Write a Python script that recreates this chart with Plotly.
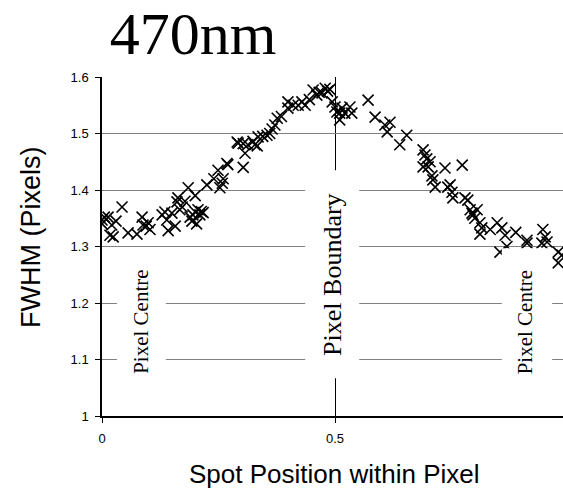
import plotly.graph_objects as go

# ---- data ----
spot_x = [0.0, 0.0, 0.005, 0.013, 0.017, 0.021, 0.024, 0.03, 0.043, 0.056, 0.075, 0.086, 0.088, 0.095,
          0.099, 0.103, 0.129, 0.135, 0.139, 0.142, 0.15, 0.157, 0.161, 0.163, 0.167, 0.172, 0.178, 0.185,
          0.189, 0.193, 0.195, 0.2, 0.2, 0.203, 0.206, 0.21, 0.213, 0.217, 0.225, 0.24, 0.249, 0.253, 0.258,
          0.26, 0.268, 0.27, 0.29, 0.292, 0.303, 0.303, 0.307, 0.313, 0.324, 0.328, 0.333, 0.335, 0.345,
          0.354, 0.36, 0.365, 0.371, 0.376, 0.385, 0.399, 0.399, 0.41, 0.421, 0.429, 0.436, 0.445, 0.453,
          0.461, 0.466, 0.472, 0.479, 0.484, 0.489, 0.494, 0.5, 0.504, 0.51, 0.51, 0.515, 0.521, 0.532,
          0.536, 0.571, 0.586, 0.607, 0.612, 0.618, 0.639, 0.654, 0.689, 0.689, 0.693, 0.697, 0.7, 0.704,
          0.708, 0.71, 0.715, 0.736, 0.742, 0.747, 0.751, 0.753, 0.773, 0.779, 0.785, 0.79, 0.794, 0.796,
          0.8, 0.805, 0.811, 0.811, 0.815, 0.833, 0.848, 0.854, 0.858, 0.865, 0.869, 0.888, 0.912, 0.912,
          0.944, 0.946, 0.951, 0.955, 0.979, 0.979, 0.987]
fwhm = [1.347, 1.34, 1.352, 1.352, 1.32, 1.338, 1.317, 1.345, 1.37, 1.324, 1.322, 1.352, 1.338, 1.336,
        1.342, 1.33, 1.356, 1.361, 1.347, 1.328, 1.359, 1.336, 1.379, 1.386, 1.365, 1.37, 1.38, 1.404,
        1.352, 1.345, 1.356, 1.39, 1.361, 1.34, 1.365, 1.356, 1.362, 1.36, 1.409, 1.42, 1.435, 1.404, 1.412,
        1.42, 1.447, 1.445, 1.485, 1.483, 1.44, 1.482, 1.465, 1.48, 1.486, 1.48, 1.478, 1.494, 1.495,
        1.497, 1.5, 1.508, 1.515, 1.527, 1.53, 1.545, 1.556, 1.55, 1.55, 1.556, 1.55, 1.56, 1.577,
        1.568, 1.573, 1.572, 1.58, 1.575, 1.578, 1.556, 1.547, 1.538, 1.524, 1.536, 1.545, 1.536, 1.547,
        1.536, 1.559, 1.529, 1.515, 1.503, 1.52, 1.48, 1.497, 1.471, 1.441, 1.462, 1.455, 1.441, 1.45,
        1.425, 1.418, 1.405, 1.439, 1.405, 1.409, 1.396, 1.386, 1.444, 1.386, 1.382, 1.365, 1.359, 1.356,
        1.35, 1.365, 1.342, 1.322, 1.333, 1.33, 1.342, 1.29, 1.333, 1.32, 1.3, 1.325, 1.311, 1.306,
        1.306, 1.33, 1.317, 1.308, 1.29, 1.271, 1.285]

y_ticks = [1.0, 1.1, 1.2, 1.3, 1.4, 1.5, 1.6]
y_tick_labels = ["1", "1.1", "1.2", "1.3", "1.4", "1.5", "1.6"]
x_ticks = [0, 0.5]
x_tick_labels = ["0", "0.5"]

labels = ["Pixel Centre", "Pixel Boundary", "Pixel Centre"]
label_x = [0.085, 0.496, 0.908]
label_y = [1.166, 1.25, 1.166]
label_size = [21, 26, 21]
# white boxes behind labels (x0, x1, y0, y1)
box_x0 = [0.032, 0.436, 0.858]
box_x1 = [0.137, 0.552, 0.966]
box_y0 = [1.055, 1.067, 1.055]
box_y1 = [1.292, 1.435, 1.297]

fig = go.Figure()
fig.add_trace(go.Scatter(
    x=spot_x, y=fwhm, mode="markers",
    marker=dict(symbol="x-thin", size=11, line=dict(color="black", width=1.6), color="black"),
    showlegend=False, cliponaxis=True,
))

shapes = []
for x0, x1, y0, y1 in zip(box_x0, box_x1, box_y0, box_y1):
    shapes.append(dict(type="rect", xref="x", yref="y", x0=x0, x1=x1, y0=y0, y1=y1,
                       fillcolor="white", line=dict(width=0), layer="above"))

annotations = []
for t, lx, ly, s in zip(labels, label_x, label_y, label_size):
    annotations.append(dict(text=t, x=lx, y=ly, xref="x", yref="y", showarrow=False,
                            textangle=-90, font=dict(family="Liberation Serif", size=s, color="black")))
annotations.append(dict(text="FWHM (Pixels)", x=-(102-31)/461, y=(416-238)/339, xref="paper", yref="paper",
                        showarrow=False, textangle=-90, xanchor="center", yanchor="middle",
                        font=dict(family="Liberation Sans", size=27, color="black")))
annotations.append(dict(text="Spot Position within Pixel", x=(334-102)/461, y=-(474-416)/339,
                        xref="paper", yref="paper", showarrow=False, xanchor="center", yanchor="middle",
                        font=dict(family="Liberation Sans", size=26, color="black")))

fig.update_layout(
    width=563, height=493,
    margin=dict(l=102, r=0, t=77, b=77),
    plot_bgcolor="white", paper_bgcolor="white",
    font=dict(family="Liberation Sans", size=13, color="black"),
    title=dict(text="470nm", x=193/563, y=1-33/493, xref="container", yref="container",
               xanchor="center", yanchor="middle",
               font=dict(family="Liberation Serif", size=60, color="black")),
    shapes=shapes,
    annotations=annotations,
    showlegend=False,
)

fig.update_xaxes(range=[0, 461/466], tickvals=x_ticks, ticktext=x_tick_labels,
                 showgrid=True, gridcolor="black", gridwidth=1,
                 showline=True, linecolor="black", linewidth=1.5,
                 ticks="outside", ticklen=5, tickcolor="black", zeroline=False,
                 ticklabelstandoff=5)
fig.update_yaxes(range=[1.0, 1.6], tickvals=y_ticks, ticktext=y_tick_labels,
                 showgrid=True, gridcolor="#808080", gridwidth=1,
                 showline=True, linecolor="black", linewidth=1.5,
                 ticks="outside", ticklen=5, tickcolor="black", zeroline=False,
                 ticklabelstandoff=4)

fig.write_html("out.html", config={"displayModeBar": False},
               post_script="document.body.style.margin='0';document.body.style.overflow='hidden';")
